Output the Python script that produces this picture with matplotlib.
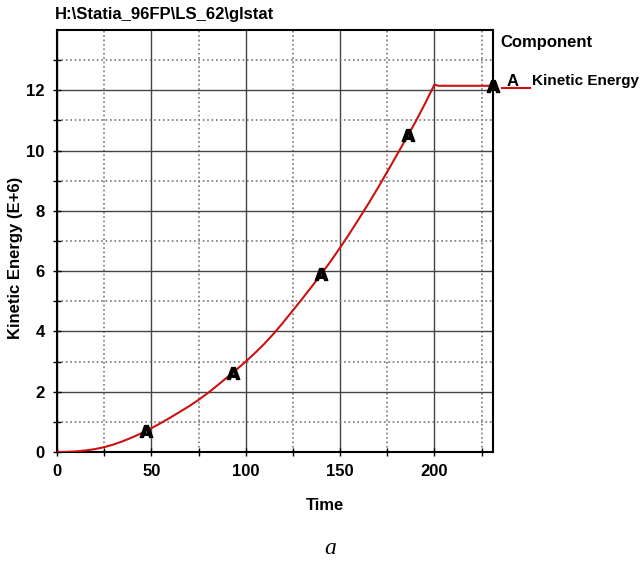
import matplotlib
matplotlib.use('Agg')
import matplotlib.pyplot as plt
from matplotlib.lines import Line2D

plt.rcParams['font.family'] = ['Liberation Sans', 'DejaVu Sans']

# kinetic energy history (E+6)
time = [0, 5, 10, 15, 20, 25, 30, 35, 40, 45, 50, 55, 60, 65, 70, 75, 80,
        85, 90, 95, 100, 105, 110, 115, 120, 125, 130, 135, 140, 145, 150,
        155, 160, 165, 170, 175, 180, 185, 190, 195, 200, 202, 231]
energy = [0, 0.005, 0.02, 0.05, 0.095, 0.16, 0.25, 0.36, 0.49, 0.63, 0.79,
          0.96, 1.14, 1.33, 1.52, 1.73, 1.96, 2.21, 2.47, 2.73, 3.0, 3.29,
          3.6, 3.94, 4.31, 4.7, 5.09, 5.49, 5.9, 6.33, 6.78, 7.25, 7.74,
          8.24, 8.76, 9.3, 9.85, 10.4, 10.96, 11.56, 12.19, 12.15, 12.15]

# "A" marker positions along the curve
mark_t = [47, 93, 140, 186, 231]
mark_v = [0.7, 2.62, 5.9, 10.51, 12.15]

fig = plt.figure(figsize=(6.44, 5.68), dpi=100)
ax = fig.add_axes([57/644, 1-452/568, 436/644, 422/568])

ax.plot(time, energy, color='#cc1111', linewidth=1.5, zorder=3)
ax.plot(mark_t, mark_v, linestyle='none', marker=r'$\mathbf{A}$',
        markersize=9, color='black', zorder=4, clip_on=False)

ax.set_xlim(0, 231)
ax.set_ylim(0, 14)
ax.set_xticks([0, 50, 100, 150, 200])
ax.set_xticks([25, 75, 125, 175, 225], minor=True)
ax.set_yticks([0, 2, 4, 6, 8, 10, 12])
ax.set_yticks([1, 3, 5, 7, 9, 11, 13], minor=True)

ax.grid(which='major', color='#444444', linestyle='-', linewidth=1.0)
ax.grid(which='minor', color='#777777', linestyle=':', linewidth=1.2)
ax.set_axisbelow(True)

ax.tick_params(which='both', direction='inout', length=6, width=1,
               labelsize=12, pad=6)
for lab in ax.get_xticklabels() + ax.get_yticklabels():
    lab.set_fontweight('bold')
for s in ax.spines.values():
    s.set_linewidth(1.5)

fig.text(55/644, 1-15/568, 'H:\\Statia_96FP\\LS_62\\glstat', fontsize=12,
         fontweight='bold', va='center', ha='left')
fig.text(325/644, 1-505/568, 'Time', fontsize=12, fontweight='bold',
         ha='center', va='center')
fig.text(16/644, 1-258/568, 'Kinetic Energy (E+6)', fontsize=12,
         fontweight='bold', rotation=90, ha='center', va='center')

# legend block on the right
fig.text(500/644, 1-43/568, 'Component', fontsize=12, fontweight='bold',
         ha='left', va='center')
fig.add_artist(Line2D([502/644, 530/644], [1-88/568, 1-88/568],
                      color='#cc1111', linewidth=1.5))
fig.text(513/644, 1-81/568, 'A', fontsize=12, fontweight='bold',
         ha='center', va='center')
fig.text(532/644, 1-81/568, 'Kinetic Energy', fontsize=11, fontweight='bold',
         ha='left', va='center')

fig.text(330/644, 1-548/568, 'a', fontsize=17, style='italic',
         family='Liberation Serif', ha='center', va='center')

fig.savefig('out.png', dpi=100)
